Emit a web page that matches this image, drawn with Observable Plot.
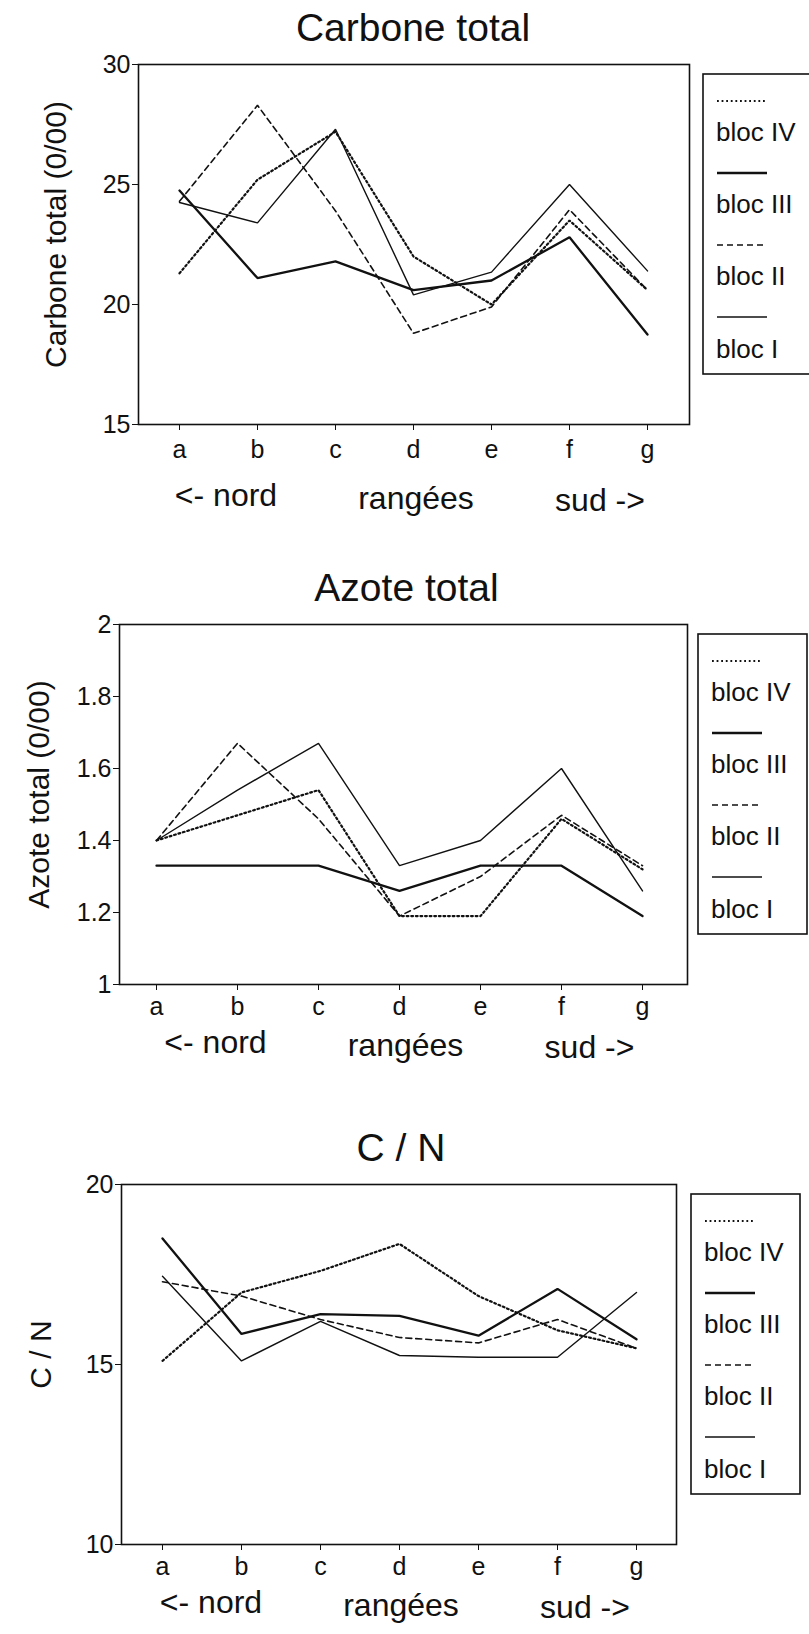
<!DOCTYPE html>
<html>
<head>
<meta charset="utf-8">
<script src="https://cdn.jsdelivr.net/npm/d3@7"></script>
<script src="https://cdn.jsdelivr.net/npm/@observablehq/plot@0.6"></script>
<style>
  html, body { margin: 0; padding: 0; background: #fff; overflow: hidden; }
  #charts { width: 809px; }
  #charts svg { display: block; }
</style>
</head>
<body>
<div id="charts"></div>
<script>
// ---- data ----
const rows = ["a", "b", "c", "d", "e", "f", "g"];
const blocs = ["bloc IV", "bloc III", "bloc II", "bloc I"];
const axisNotes = ["<- nord", "rangées", "sud ->"];

// Carbone total (0/00)
const carboneIV  = [21.3, 25.2, 27.2, 22.0, 20.0, 23.5, 20.6];
const carboneIII = [24.75, 21.1, 21.8, 20.6, 21.0, 22.8, 18.75];
const carboneII  = [24.3, 28.3, 23.9, 18.8, 19.9, 23.95, 20.6];
const carboneI   = [24.25, 23.4, 27.3, 20.4, 21.35, 25.0, 21.4];
const carboneTicks = [15, 20, 25, 30];

// Azote total (0/00)
const azoteIV  = [1.40, 1.47, 1.54, 1.19, 1.19, 1.46, 1.32];
const azoteIII = [1.33, 1.33, 1.33, 1.26, 1.33, 1.33, 1.19];
const azoteII  = [1.40, 1.67, 1.46, 1.19, 1.30, 1.47, 1.33];
const azoteI   = [1.40, 1.54, 1.67, 1.33, 1.40, 1.60, 1.26];
const azoteTicks = [1, 1.2, 1.4, 1.6, 1.8, 2];

// C / N
const cnIV  = [15.1, 17.0, 17.6, 18.35, 16.9, 15.95, 15.45];
const cnIII = [18.5, 15.85, 16.4, 16.35, 15.8, 17.1, 15.7];
const cnII  = [17.3, 16.9, 16.25, 15.75, 15.6, 16.25, 15.45];
const cnI   = [17.45, 15.1, 16.2, 15.25, 15.2, 15.2, 17.0];
const cnTicks = [10, 15, 20];

// ---- styles ----
const INK = "#111";
const FONT = "'Liberation Sans', Arial, Helvetica, sans-serif";
const lineStyles = {
  "bloc IV":  {strokeWidth: 2.2, strokeDasharray: "1.8 2.8"},
  "bloc III": {strokeWidth: 2.3},
  "bloc II":  {strokeWidth: 1.6, strokeDasharray: "6 4"},
  "bloc I":   {strokeWidth: 1.4}
};

function makeChart(cfg) {
  const table = blocs.flatMap((b, i) =>
    rows.map((r, j) => ({bloc: b, row: r, value: cfg.series[i][j]})));
  const frameTop = 64, frameBottom = 424;
  const svg = Plot.plot({
    width: 809,
    height: cfg.height,
    marginTop: frameTop,
    marginBottom: cfg.height - frameBottom,
    marginLeft: cfg.marginLeft,
    marginRight: cfg.marginRight,
    style: {fontFamily: FONT, fontSize: "25px", color: INK, background: "#fff"},
    x: {type: "point", domain: rows, padding: 0, insetLeft: cfg.insetLeft, insetRight: cfg.insetRight},
    y: {domain: cfg.yDomain},
    marks: [
      Plot.frame({stroke: INK, strokeWidth: 1.6}),
      Plot.axisY({ticks: cfg.yTicks, tickFormat: d => String(d), tickSize: 6, tickPadding: 2, label: null}),
      Plot.axisX({tickSize: 6, tickPadding: cfg.xPad, label: null}),
      ...blocs.map(b => Plot.line(table.filter(d => d.bloc === b),
        {x: "row", y: "value", stroke: INK, strokeLinejoin: "miter", ...lineStyles[b]})),
      Plot.text([cfg.title], {frameAnchor: "top", textAnchor: "middle", lineAnchor: "bottom", dy: -24, dx: cfg.titleDx, fontSize: 39}),
      Plot.text([cfg.ylabel], {frameAnchor: "left", textAnchor: "middle", rotate: -90, lineAnchor: "middle", dx: cfg.ylabelDx, dy: -10, fontSize: 30}),
      Plot.text([axisNotes[0]], {frameAnchor: "bottom", textAnchor: "middle", lineAnchor: "bottom", dx: -188, dy: cfg.noteDy, fontSize: 32}),
      Plot.text([axisNotes[1]], {frameAnchor: "bottom", textAnchor: "middle", lineAnchor: "bottom", dx: 2, dy: cfg.noteDy + 3, fontSize: 32}),
      Plot.text([axisNotes[2]], {frameAnchor: "bottom", textAnchor: "middle", lineAnchor: "bottom", dx: 186, dy: cfg.noteDy + 5, fontSize: 32})
    ]
  });

  // legend box to the right of the frame
  const lg = d3.select(svg).append("g")
    .attr("font-family", FONT).attr("fill", INK).attr("text-anchor", "start");
  const bx = cfg.legendX, bw = cfg.legendW, bt = 74, bb = 374;
  lg.append("rect").attr("x", bx).attr("y", bt).attr("width", bw).attr("height", bb - bt)
    .attr("fill", "none").attr("stroke", INK).attr("stroke-width", 1.6);
  const lineY = [101, 173, 245, 317];
  const labelY = [141, 213, 285, 358];
  blocs.forEach((b, i) => {
    const st = lineStyles[b];
    lg.append("line").attr("x1", bx + 14).attr("x2", bx + 64)
      .attr("y1", lineY[i]).attr("y2", lineY[i])
      .attr("stroke", INK).attr("stroke-width", st.strokeWidth)
      .attr("stroke-dasharray", st.strokeDasharray || null);
    lg.append("text").attr("x", bx + 13).attr("y", labelY[i])
      .attr("text-anchor", "start").attr("font-size", 26).text(b);
  });
  document.getElementById("charts").appendChild(svg);
}

makeChart({
  title: "Carbone total", ylabel: "Carbone total (0/00)",
  series: [carboneIV, carboneIII, carboneII, carboneI],
  yDomain: [15, 30], yTicks: carboneTicks,
  height: 560, marginLeft: 138, marginRight: 120, insetLeft: 38, insetRight: 40,
  xPad: 10, titleDx: -1, ylabelDx: -82, noteDy: 81,
  legendX: 703, legendW: 130
});
makeChart({
  title: "Azote total", ylabel: "Azote total (0/00)",
  series: [azoteIV, azoteIII, azoteII, azoteI],
  yDomain: [1, 2], yTicks: azoteTicks,
  height: 560, marginLeft: 119, marginRight: 122, insetLeft: 36, insetRight: 45,
  xPad: 7, titleDx: 3, ylabelDx: -80, noteDy: 68,
  legendX: 698, legendW: 109
});
makeChart({
  title: "C / N", ylabel: "C / N",
  series: [cnIV, cnIII, cnII, cnI],
  yDomain: [10, 20], yTicks: cnTicks,
  height: 514, marginLeft: 121, marginRight: 133, insetLeft: 41, insetRight: 40,
  xPad: 7, titleDx: 2, ylabelDx: -80, noteDy: 68,
  legendX: 691, legendW: 109
});
</script>
</body>
</html>
